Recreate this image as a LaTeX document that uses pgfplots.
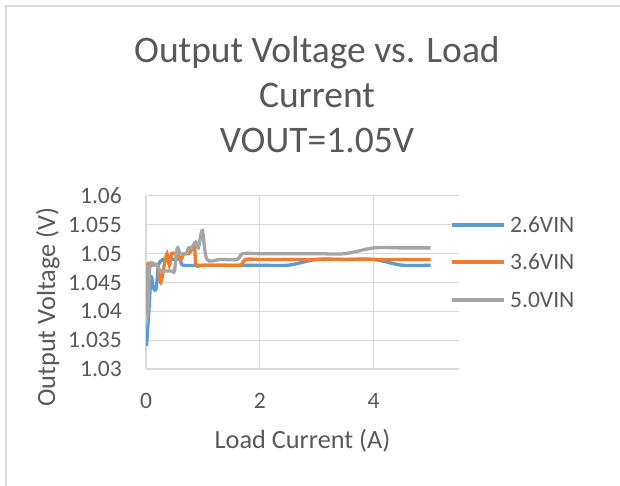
\documentclass[border=0pt]{standalone}
\usepackage{fontspec}
\setmainfont{Carlito}
\usepackage{pgfplots}
\pgfplotsset{compat=1.18}
\definecolor{sblue}{HTML}{5B9BD5}
\definecolor{sorange}{HTML}{ED7D31}
\definecolor{sgray}{HTML}{A5A5A5}
\definecolor{ctext}{HTML}{595959}
\definecolor{cgrid}{HTML}{D9D9D9}
\begin{document}
\begin{tikzpicture}[x=1bp,y=1bp]
\useasboundingbox (0,0) rectangle (620,486);
\fill[white] (0,0) rectangle (620,486);
\draw[cgrid, line width=1.2bp] (6,0) -- (6,480) -- (620,480);

% title
\begin{scope}[every node/.style={anchor=base, text=ctext, inner sep=0pt, font=\fontsize{37.5bp}{45bp}\selectfont}]
\node at (317,423) {Output Voltage vs. Load};
\node at (317,378) {Current};
\node at (317,333) {VOUT=1.05V};
\end{scope}

\begin{axis}[
  at={(146bp,117bp)}, anchor=south west,
  width=313bp, height=173bp, scale only axis,
  xmin=0, xmax=5.5, ymin=1.03, ymax=1.06,
  xtick={0,2,4},
  ytick={1.03,1.035,1.04,1.045,1.05,1.055,1.06},
  yticklabels={1.03,1.035,1.04,1.045,1.05,1.055,1.06},
  /pgf/number format/assume math mode=true,
  grid=major,
  grid style={cgrid, line width=1bp},
  axis lines*=left,
  axis line style={cgrid, line width=1.4bp},
  major tick length=0pt,
  tick label style={text=ctext, font=\fontsize{23.5bp}{28bp}\selectfont, inner sep=0pt},
  yticklabel style={anchor=east, xshift=-24bp},
  xticklabel style={anchor=north, yshift=-24bp},
  clip=true,
]
\addplot[sblue, line width=3.3bp, smooth, tension=0.5, no markers] coordinates {
(0.01,1.034) (0.05,1.040) (0.09,1.046) (0.13,1.044) (0.18,1.044) (0.22,1.048)
(0.3,1.049) (0.45,1.049) (0.6,1.049) (0.65,1.048) (1.0,1.048) (1.5,1.048)
(2.0,1.048) (2.5,1.048) (3.0,1.049) (3.5,1.049) (4.0,1.049) (4.5,1.048) (5.0,1.048)
};
\addplot[sorange, line width=3.3bp, smooth, tension=0.5, no markers] coordinates {
(0.00,1.043) (0.03,1.048) (0.1,1.048) (0.2,1.048) (0.26,1.045) (0.32,1.048)
(0.37,1.050) (0.41,1.048) (0.45,1.050) (0.5,1.050) (0.55,1.050) (0.61,1.049)
(0.67,1.050) (0.75,1.050) (0.85,1.051) (0.88,1.048) (1.0,1.048) (1.3,1.048)
(1.65,1.048) (1.75,1.049) (2.0,1.049) (2.5,1.049) (3.0,1.049) (3.5,1.049)
(4.0,1.049) (4.5,1.049) (5.0,1.049)
};
\addplot[sgray, line width=3.3bp, smooth, tension=0.5, no markers] coordinates {
(0.01,1.048) (0.03,1.040) (0.07,1.048) (0.15,1.048) (0.2,1.048) (0.25,1.047)
(0.35,1.047) (0.45,1.047) (0.50,1.047) (0.55,1.051) (0.60,1.050) (0.70,1.050)
(0.75,1.051) (0.80,1.051) (0.87,1.052) (0.92,1.051) (0.99,1.054) (1.07,1.049)
(1.3,1.049) (1.6,1.049) (1.7,1.050) (2.0,1.050) (2.5,1.050) (3.0,1.050)
(3.5,1.050) (4.0,1.051) (4.5,1.051) (5.0,1.051)
};
\end{axis}

% axis titles
\node[anchor=base, inner sep=0pt, text=ctext, font=\fontsize{26.3bp}{31bp}\selectfont] at (302.5,37) {Load Current (A)};
\node[anchor=base, rotate=90, inner sep=0pt, text=ctext, font=\fontsize{26.3bp}{31bp}\selectfont] at (55,179) {Output Voltage (V)};

% legend
\begin{scope}[every node/.style={anchor=west, inner sep=0pt, text=ctext, font=\fontsize{23.5bp}{28bp}\selectfont}]
\draw[sblue, line width=3.3bp] (452,261) -- (504,261);
\node at (510,261) {2.6VIN};
\draw[sorange, line width=3.3bp] (452,224) -- (504,224);
\node at (510,224) {3.6VIN};
\draw[sgray, line width=3.3bp] (452,186) -- (504,186);
\node at (510,186) {5.0VIN};
\end{scope}
\end{tikzpicture}
\end{document}
